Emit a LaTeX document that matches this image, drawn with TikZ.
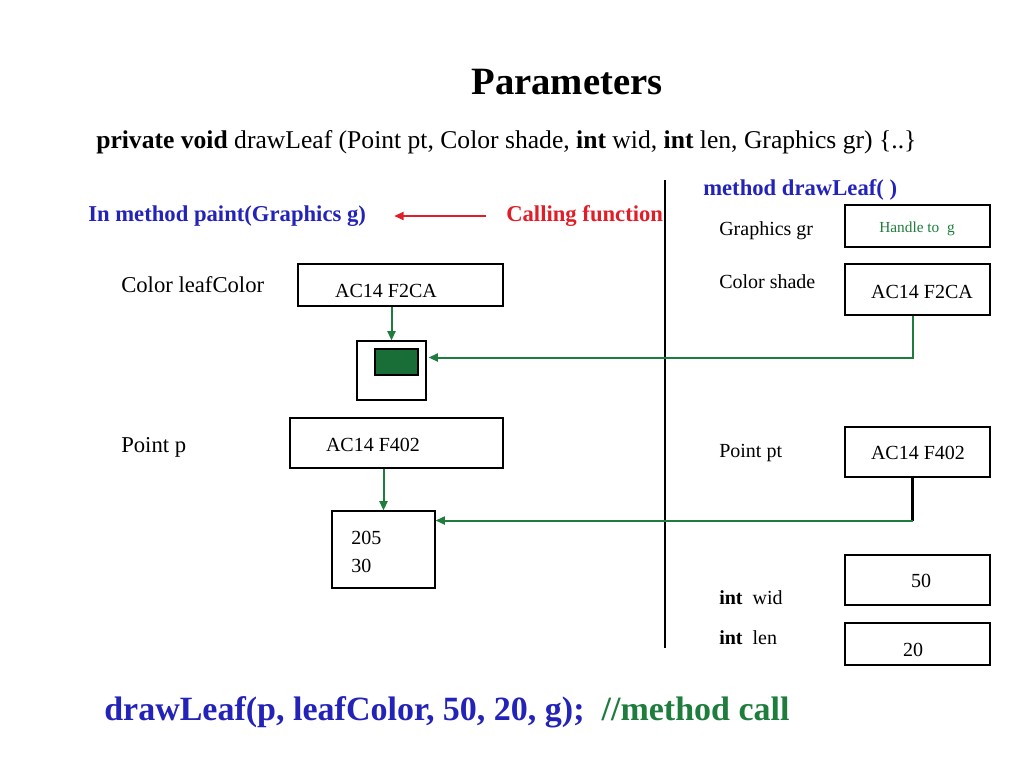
\documentclass[tikz,border=0pt]{standalone}
\usepackage{fontspec}
\setmainfont{Liberation Serif}
\usepackage{tikz}
\usetikzlibrary{positioning,arrows.meta,fit,calc}

\definecolor{callblue}{RGB}{35,35,185}
\definecolor{callred}{RGB}{225,30,40}
\definecolor{leafgreen}{RGB}{25,110,55}
\definecolor{ptrgreen}{RGB}{30,125,60}

\begin{document}
\begin{tikzpicture}[
  x=0.75pt, y=-0.75pt,
  >={Triangle[length=7pt,width=6pt]},
  cell/.style={draw, line width=0.8pt, inner sep=0pt},
  lbl/.style={anchor=west, inner sep=0pt, font=\fontsize{17}{20}\selectfont},
  rlbl/.style={anchor=west, inner sep=0pt, font=\fontsize{15}{18}\selectfont},
  val/.style={inner sep=0pt, font=\fontsize{15}{18}\selectfont},
  head/.style={anchor=west, inner sep=0pt, font=\fontsize{17}{20}\selectfont\bfseries},
  ptr/.style={->, line width=1.5pt, ptrgreen},
]
\useasboundingbox (0,0) rectangle (1024,768);

% Title and signature
\node[font=\fontsize{29}{34}\selectfont\bfseries] (title) at (567,82) {Parameters};
\node[anchor=west, inner sep=0pt, font=\fontsize{19.2}{22}\selectfont] (sig) at (96,142)
  {\textbf{private void} drawLeaf (Point pt, Color shade, \textbf{int} wid, \textbf{int} len, Graphics gr) \{..\}};

% Divider
\coordinate (divTop) at (665,180);
\coordinate (divBot) at (665,648);
\draw[line width=0.8pt] (divTop) -- (divBot);

% Caller side
\node[head, callblue] (paintLbl) at (88,216) {In method paint(Graphics g)};
\node[head, callred] (calling) at (506,216) {Calling function};
\draw[->, line width=1.3pt, callred, shorten <=15pt, shorten >=21pt] (calling.west) -- (paintLbl.east);

\node[lbl] (leafLbl) at (121,285) {Color leafColor};
\node[cell, fit={(298,264) (503,306)}] (leafColor) {};
\node[val] at (386,291) {AC14 F2CA};

\node[cell, fit={(357,341) (426,400)}] (swatch) {};
\node[cell, fill=leafgreen, fit={(375,349) (418,375)}] (swatchFill) {};

\node[lbl] (pLbl) at (121,447) {Point p};
\node[cell, fit={(290,418) (503,468)}] (pointP) {};
\node[val] at (373,445) {AC14 F402};

\node[cell, fit={(332,511) (435,588)}] (pointXY) {};
\node[val, anchor=west] at (351,538) {205};
\node[val, anchor=west] at (351,566) {30};

\draw[ptr] (leafColor.south -| swatch.north) -- (swatch.north);
\draw[ptr] (pointP.south -| pointXY.north) -- (pointXY.north);

% Method side
\node[head, callblue] (methodLbl) at (703,190) {method drawLeaf( )};

\node[rlbl] (grLbl) at (719,231) {Graphics gr};
\node[cell, fit={(845,205) (990,247)}] (grBox) {};
\node[val, ptrgreen, font=\fontsize{11.5}{14}\selectfont] at (917,229) {Handle to \ g};

\node[rlbl] (shadeLbl) at (719,282) {Color shade};
\node[cell, fit={(845,264) (990,315)}] (shadeBox) {};
\node[val] at (922,292) {AC14 F2CA};

\node[rlbl] (ptLbl) at (719,453) {Point pt};
\node[cell, fit={(845,427) (990,477)}] (ptBox) {};
\node[val] at (918,453) {AC14 F402};

\node[rlbl] (widLbl) at (719,598) {\textbf{int} \ wid};
\node[cell, fit={(845,555) (990,605)}] (widBox) {};
\node[val] at (921,581) {50};

\node[rlbl] (lenLbl) at (719,638) {\textbf{int} \ len};
\node[cell, fit={(845,623) (990,665)}] (lenBox) {};
\node[val] at (913,650) {20};

% References back to the caller
\draw[ptr] ($(shadeBox.south)+(-5,0)$) |- ($(swatch.east)+(2,-13)$);
\draw[line width=1.8pt] ($(ptBox.south)+(-5,0)$) -- ++(0,43) coordinate (bend);
\draw[ptr] (bend) -- (pointXY.east |- bend);

% Call
\node[anchor=west, inner sep=0pt, font=\fontsize{25.5}{30}\selectfont\bfseries] (callLine) at (104,712)
  {\textcolor{callblue}{drawLeaf(p, leafColor, 50, 20, g);} \ \textcolor{ptrgreen}{//method call}};
\end{tikzpicture}
\end{document}
